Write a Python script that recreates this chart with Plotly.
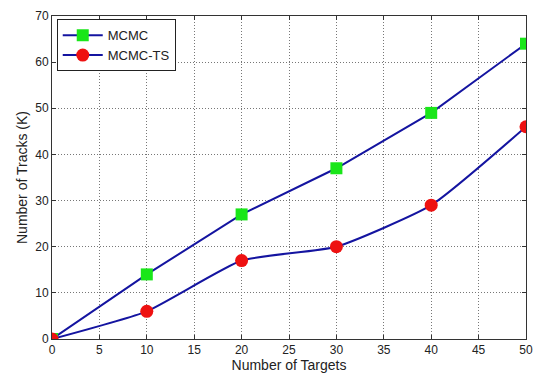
import plotly.graph_objects as go

targets = [0, 10, 20, 30, 40, 50]
mcmc = [0, 14, 27, 37, 49, 64]
mcmc_ts = [0, 6, 17, 20, 29, 46]

line_color = "#1414a0"
font = dict(family="Liberation Sans, Arial, sans-serif", size=12, color="#222")

fig = go.Figure()
fig.add_trace(go.Scatter(x=targets, y=mcmc, name="MCMC", mode="lines+markers",
                         line=dict(color=line_color, width=2),
                         marker=dict(symbol="square", size=12, color="#19e619", line=dict(width=0))))
fig.add_trace(go.Scatter(x=targets, y=mcmc_ts, name="MCMC-TS", mode="lines+markers",
                         line=dict(color=line_color, width=2, shape="spline", smoothing=0.5),
                         marker=dict(symbol="circle", size=13, color="#ee1111", line=dict(width=0))))

axis_common = dict(showline=True, linecolor="#333", linewidth=1, mirror="ticks",
                   ticks="inside", ticklen=4, tickcolor="#333",
                   showgrid=True, gridcolor="#777", griddash="1px,2px", gridwidth=1,
                   zeroline=False, tickfont=font, automargin=False)

fig.update_layout(
    width=533, height=374,
    margin=dict(l=52, r=7, t=16, b=35),
    paper_bgcolor="white", plot_bgcolor="white",
    font=font,
    showlegend=True,
    legend=dict(x=0.01, y=0.99, xanchor="left", yanchor="top",
                bgcolor="white", bordercolor="#222", borderwidth=1,
                font=dict(family="Liberation Sans, Arial, sans-serif", size=13, color="#222"),
                tracegroupgap=0, itemwidth=40),
)
fig.update_xaxes(range=[0, 50], dtick=5, title=dict(text="Number of Targets", standoff=2), **axis_common)
fig.update_yaxes(range=[0, 70], dtick=10, title=dict(text="Number of Tracks (K)", standoff=4), **axis_common)

fig.write_html("out.html",
               config={"displayModeBar": False},
               post_script="document.body.style.margin='0';document.body.style.overflow='hidden';")
